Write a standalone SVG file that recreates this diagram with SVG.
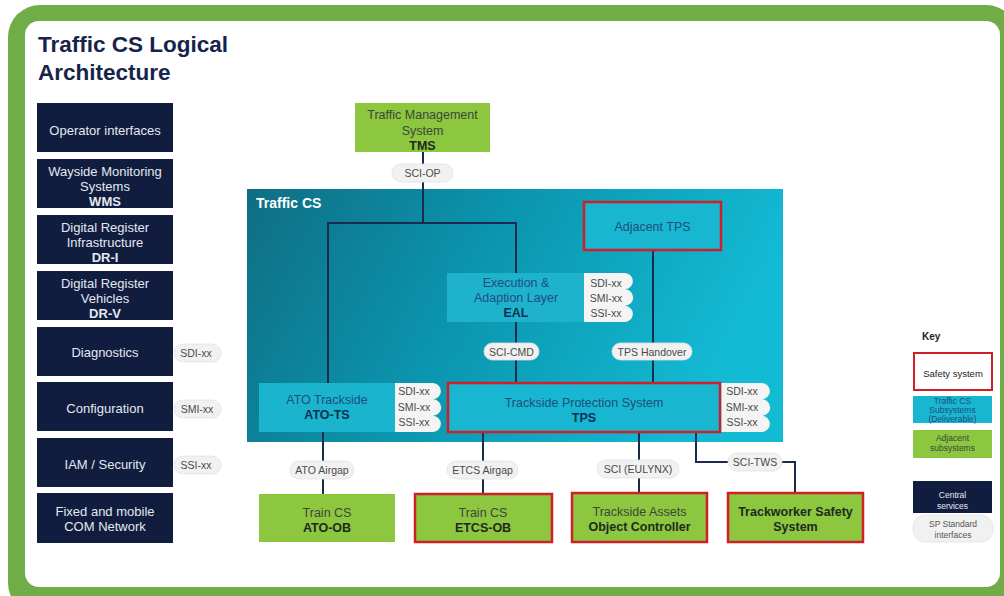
<svg xmlns="http://www.w3.org/2000/svg" width="1004" height="596" viewBox="0 0 1004 596">
<defs>
<linearGradient id="tcs" x1="0" y1="0" x2="1" y2="0.25">
<stop offset="0" stop-color="#0f6e83"/>
<stop offset="0.45" stop-color="#0b93ac"/>
<stop offset="1" stop-color="#13bad4"/>
</linearGradient>
<style>
.t{font-family:"Liberation Sans",Arial,sans-serif;text-anchor:middle}
.navy{fill:#101d3f}
.nt{fill:#e4e8ef;font-size:13px}
.b{font-weight:bold}
.grn{fill:#8dc63f}
.gt{fill:#3b463a;font-size:12.5px}
.gb{fill:#1e2a1e;font-size:12.5px;font-weight:bold}
.cy{fill:#19b6d1}
.ct{fill:#1d4f7c;font-size:12.5px}
.cb{fill:#0f2f55;font-size:12.5px;font-weight:bold}
.red{stroke:#d01f28;stroke-width:2.5}
.pill{fill:#f1f1f1;stroke:#e2e2e2;stroke-width:0.8}
.pin{fill:#f4f4f4}
.pt{fill:#4a4a4a;font-size:10.5px}
.ln{fill:none;stroke:#1b2b4b;stroke-width:2}
.kt{font-size:8.5px}
</style>
</defs>
<rect x="8" y="5" width="1010" height="610" rx="32" fill="#70ad47"/>
<rect x="25" y="21" width="975" height="566" rx="14" fill="#ffffff"/>
<text class="t b" x="38" y="52" style="text-anchor:start;font-size:22.5px;fill:#15244a">Traffic CS Logical</text>
<text class="t b" x="38" y="80" style="text-anchor:start;font-size:22.5px;fill:#15244a">Architecture</text>

<g id="operator-interfaces"><rect class="navy" x="37" y="103" width="136" height="49"/><text class="t nt" x="105" y="135">Operator interfaces</text></g>
<g id="wms"><rect class="navy" x="37" y="159" width="136" height="49"/><text class="t nt" x="105" y="176">Wayside Monitoring</text><text class="t nt" x="105" y="191">Systems</text><text class="t nt b" x="105" y="206">WMS</text></g>
<g id="dr-i"><rect class="navy" x="37" y="215" width="136" height="49"/><text class="t nt" x="105" y="232">Digital Register</text><text class="t nt" x="105" y="247">Infrastructure</text><text class="t nt b" x="105" y="262">DR-I</text></g>
<g id="dr-v"><rect class="navy" x="37" y="271" width="136" height="49"/><text class="t nt" x="105" y="288">Digital Register</text><text class="t nt" x="105" y="303">Vehicles</text><text class="t nt b" x="105" y="318">DR-V</text></g>
<g id="diagnostics"><rect class="navy" x="37" y="327" width="136" height="49"/><text class="t nt" x="105" y="357">Diagnostics</text></g>
<g id="configuration"><rect class="navy" x="37" y="382" width="136" height="49"/><text class="t nt" x="105" y="413">Configuration</text></g>
<g id="iam"><rect class="navy" x="37" y="438" width="136" height="49"/><text class="t nt" x="105" y="469">IAM / Security</text></g>
<g id="com-network"><rect class="navy" x="37" y="493" width="136" height="50"/><text class="t nt" x="105" y="516">Fixed and mobile</text><text class="t nt" x="105" y="531">COM Network</text></g>

<g id="left-interfaces">
<rect class="pill" x="174" y="344" width="47" height="18" rx="9"/><text class="t pt" x="196" y="357">SDI-xx</text>
<rect class="pill" x="174" y="400" width="47" height="18" rx="9"/><text class="t pt" x="197" y="413">SMI-xx</text>
<rect class="pill" x="174" y="456" width="47" height="18" rx="9"/><text class="t pt" x="196" y="469">SSI-xx</text>
</g>

<g id="traffic-cs"><rect x="247" y="189" width="536" height="253" fill="url(#tcs)"/><text class="t b" x="256" y="208" style="text-anchor:start;font-size:14px;fill:#ffffff">Traffic CS</text></g>

<g id="connectors">
<path class="ln" d="M423 152V223"/>
<path class="ln" d="M328 383V223H516V273"/>
<path class="ln" d="M516 322V383"/>
<path class="ln" d="M653 251V383"/>
<path class="ln" d="M323 432V494"/>
<path class="ln" d="M483 432V494"/>
<path class="ln" d="M639 432V492"/>
<path class="ln" d="M696 432V462H795V492"/>
<rect class="pill" x="392" y="164" width="61" height="18" rx="9"/><text class="t pt" x="422.5" y="177">SCI-OP</text>
<rect class="pill" x="484" y="343" width="55" height="17" rx="8.5"/><text class="t pt" x="511.5" y="355.5">SCI-CMD</text>
<rect class="pill" x="612" y="343" width="80" height="17" rx="8.5"/><text class="t pt" x="652" y="355.5">TPS Handover</text>
<rect class="pill" x="290" y="461" width="64" height="18" rx="9"/><text class="t pt" x="322" y="474">ATO Airgap</text>
<rect class="pill" x="447" y="461" width="71" height="18" rx="9"/><text class="t pt" x="482.5" y="474">ETCS Airgap</text>
<rect class="pill" x="597" y="460" width="82" height="18" rx="9"/><text class="t pt" x="638" y="473">SCI (EULYNX)</text>
<rect class="pill" x="728" y="453" width="54" height="18" rx="9"/><text class="t pt" x="755" y="466">SCI-TWS</text>
</g>

<g id="tms"><rect class="grn" x="355" y="103" width="135" height="49"/><text class="t gt" x="422.5" y="119">Traffic Management</text><text class="t gt" x="422.5" y="135">System</text><text class="t gb" x="422.5" y="150">TMS</text></g>

<g id="adjacent-tps"><rect class="cy red" x="584" y="202" width="137" height="48"/><text class="t ct" x="652.5" y="231">Adjacent TPS</text></g>

<g id="eal"><rect x="447" y="273" width="137" height="49" fill="#1fb2cc"/><text class="t ct" x="516" y="287">Execution &amp;</text><text class="t ct" x="516" y="302">Adaption Layer</text><text class="t cb" x="516" y="317">EAL</text>
<path class="pin" d="M584 273H625A8.17 8.17 0 0 1 625 289.33A8.17 8.17 0 0 1 625 305.67A8.17 8.17 0 0 1 625 322H584Z"/>
<text class="t pt" x="606" y="287" style="text-anchor:middle">SDI-xx</text><text class="t pt" x="606" y="302">SMI-xx</text><text class="t pt" x="606" y="317">SSI-xx</text></g>

<g id="ato-ts"><rect x="259" y="383" width="136" height="49" fill="#1bb4cf"/><text class="t ct" x="327" y="404">ATO Trackside</text><text class="t cb" x="327" y="419">ATO-TS</text>
<path class="pin" d="M395 383H433A8.17 8.17 0 0 1 433 399.33A8.17 8.17 0 0 1 433 415.67A8.17 8.17 0 0 1 433 432H395Z"/>
<text class="t pt" x="414" y="395">SDI-xx</text><text class="t pt" x="414" y="410.5">SMI-xx</text><text class="t pt" x="414" y="426">SSI-xx</text></g>

<g id="tps"><rect class="cy red" x="448" y="383" width="272" height="49"/><text class="t ct" x="584" y="407">Trackside Protection System</text><text class="t cb" x="584" y="422">TPS</text>
<path class="pin" d="M721.5 383H762A8.17 8.17 0 0 1 762 399.33A8.17 8.17 0 0 1 762 415.67A8.17 8.17 0 0 1 762 432H721.5Z"/>
<text class="t pt" x="742" y="395">SDI-xx</text><text class="t pt" x="742" y="410.5">SMI-xx</text><text class="t pt" x="742" y="426">SSI-xx</text></g>

<g id="ato-ob"><rect class="grn" x="259" y="494" width="136" height="48"/><text class="t gt" x="327" y="517">Train CS</text><text class="t gb" x="327" y="532">ATO-OB</text></g>
<g id="etcs-ob"><rect class="grn red" x="415" y="494" width="137" height="48"/><text class="t gt" x="483" y="517">Train CS</text><text class="t gb" x="483" y="532">ETCS-OB</text></g>
<g id="object-controller"><rect class="grn red" x="572" y="493" width="135" height="49"/><text class="t gt" x="639.5" y="516">Trackside Assets</text><text class="t gb" x="639.5" y="531">Object Controller</text></g>
<g id="trackworker-safety"><rect class="grn red" x="728" y="493" width="135" height="49"/><text class="t gb" x="795.5" y="516">Trackworker Safety</text><text class="t gb" x="795.5" y="531">System</text></g>

<g id="key">
<text class="t b" x="922" y="340" style="text-anchor:start;font-size:10px;fill:#222">Key</text>
<rect x="914" y="353" width="78" height="37" fill="#ffffff" class="red" style="stroke-width:2"/><text class="t" x="953" y="377" style="font-size:9.5px;fill:#222">Safety system</text>
<rect class="cy" x="913" y="396" width="79" height="27"/><text class="t kt" x="952.5" y="404" style="fill:#1d4f7c">Traffic CS</text><text class="t kt" x="952.5" y="413" style="fill:#1d4f7c">Subsystems</text><text class="t kt" x="952.5" y="422" style="fill:#1d4f7c">(Deliverable)</text>
<rect class="grn" x="913" y="430" width="79" height="28"/><text class="t kt" x="952.5" y="441" style="fill:#3b463a">Adjacent</text><text class="t kt" x="952.5" y="451" style="fill:#3b463a">subsystems</text>
<rect class="navy" x="913" y="481" width="79" height="32"/><text class="t kt" x="952.5" y="498" style="fill:#e4e8ef">Central</text><text class="t kt" x="952.5" y="509" style="fill:#e4e8ef">services</text>
<rect class="pill" x="913" y="515" width="80" height="27" rx="12"/><text class="t kt" x="953" y="527" style="fill:#555">SP Standard</text><text class="t kt" x="953" y="538" style="fill:#555">interfaces</text>
</g>
</svg>
